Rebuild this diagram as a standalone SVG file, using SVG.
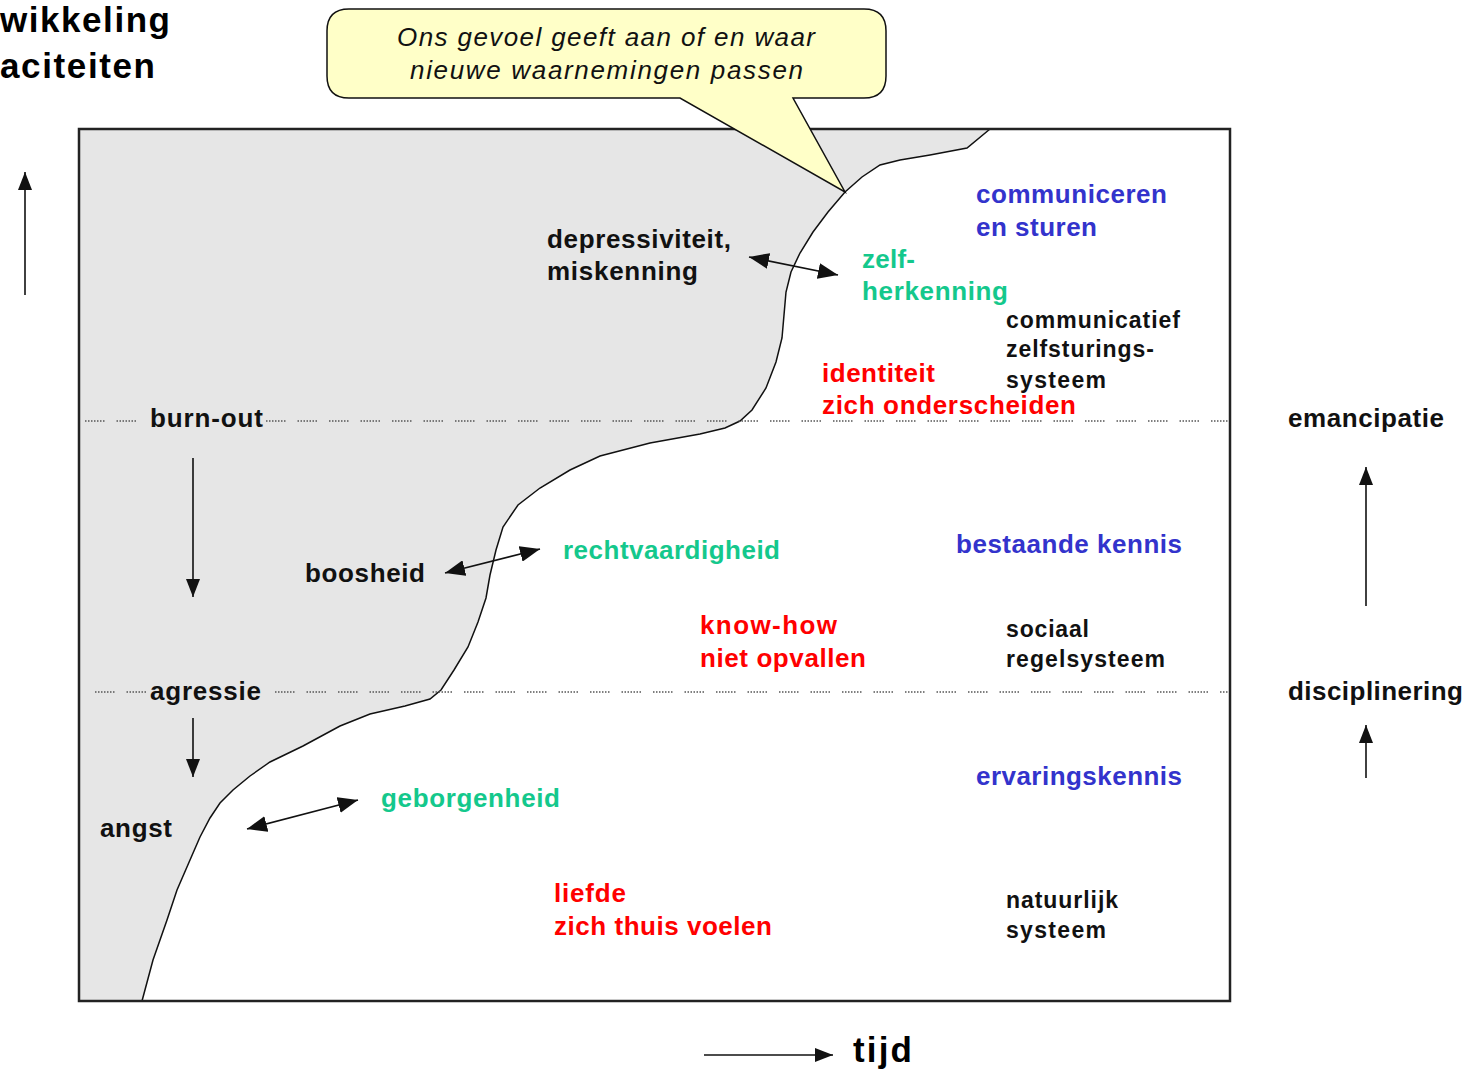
<svg xmlns="http://www.w3.org/2000/svg" width="1481" height="1070" viewBox="0 0 1481 1070">
<style>
text{font-family:"Liberation Sans",Arial,sans-serif;font-weight:bold;}
.lb{font-size:26px;fill:#111;}
.sm{font-size:23px;fill:#111;}
.blue{font-size:26px;fill:#3333cc;}
.green{font-size:26px;fill:#14c88c;}
.red{font-size:26px;fill:#ff0000;}
.call{font-size:26px;font-style:italic;font-weight:normal;fill:#111;}
.big{font-size:35px;fill:#000;}
.dots{stroke:#555;stroke-width:1.5;stroke-dasharray:1.5 1.5 1.5 1.5 1.5 1.5 1.5 1.5 1.5 1.5 1.5 1.5 1.5 12;fill:none;}
.ar{stroke:#111;stroke-width:1.6;fill:none;}
</style>
<defs>
<marker id="ah" viewBox="0 0 20 16" refX="20" refY="8" markerWidth="20" markerHeight="16" orient="auto-start-reverse" markerUnits="userSpaceOnUse"><path d="M0,0 L20,8 L0,16 Z" fill="#111"/></marker>
<marker id="av" viewBox="0 0 18 14" refX="18" refY="7" markerWidth="18" markerHeight="14" orient="auto" markerUnits="userSpaceOnUse"><path d="M0,0 L18,7 L0,14 Z" fill="#111"/></marker>
</defs>
<rect width="1481" height="1070" fill="#fff"/>
<g id="gray-region">
<path d="M79,129 L990,129 L967,148 L930,155 L900,160 L880,165 L862,177 L845,192 L828,212 L813,232 L800,253 L791,272 L786,292 L784,315 L782,338 L776,362 L766,388 L752,410 L740,421 L725,428 L700,434 L650,443 L600,456 L570,470 L540,488 L518,505 L503,527 L496,550 L490,575 L486,598 L478,622 L468,647 L454,670 L441,690 L430,699 L405,706 L370,714 L340,726 L303,746 L270,762 L250,776 L233,790 L220,803 L210,818 L200,837 L190,860 L177,890 L167,920 L153,960 L142,1001 L79,1001 Z" fill="#e6e6e6"/>
<path d="M990,129 L967,148 L930,155 L900,160 L880,165 L862,177 L845,192 L828,212 L813,232 L800,253 L791,272 L786,292 L784,315 L782,338 L776,362 L766,388 L752,410 L740,421 L725,428 L700,434 L650,443 L600,456 L570,470 L540,488 L518,505 L503,527 L496,550 L490,575 L486,598 L478,622 L468,647 L454,670 L441,690 L430,699 L405,706 L370,714 L340,726 L303,746 L270,762 L250,776 L233,790 L220,803 L210,818 L200,837 L190,860 L177,890 L167,920 L153,960 L142,1001" fill="none" stroke="#111" stroke-width="1.5"/>
</g>
<g id="levels">
<line class="dots" x1="85" y1="421" x2="147" y2="421"/>
<line class="dots" x1="266" y1="421" x2="1230" y2="421"/>
<line class="dots" x1="95" y1="692" x2="148" y2="692"/>
<line class="dots" x1="275" y1="692" x2="1230" y2="692"/>
</g>
<g id="frame">
<rect x="79" y="129" width="1151" height="872" fill="none" stroke="#222" stroke-width="2.5"/>
</g>
<g id="callout">
<path d="M349,9 L864,9 Q886,9 886,31 L886,76 Q886,98 864,98 L793,98 L845,192 L680,98 L349,98 Q327,98 327,76 L327,31 Q327,9 349,9 Z" fill="#ffffc8" stroke="#111" stroke-width="1.5"/>
<text class="call" x="397" y="46" textLength="418">Ons gevoel geeft aan of en waar</text>
<text class="call" x="410" y="79" textLength="393">nieuwe waarnemingen passen</text>
</g>
<g id="connectors">
<line class="ar" x1="25" y1="295" x2="25" y2="172" marker-end="url(#av)"/>
<line class="ar" x1="193" y1="458" x2="193" y2="597" marker-end="url(#av)"/>
<line class="ar" x1="193" y1="718" x2="193" y2="777" marker-end="url(#av)"/>
<line class="ar" x1="1366" y1="606" x2="1366" y2="467" marker-end="url(#av)"/>
<line class="ar" x1="1366" y1="778" x2="1366" y2="725" marker-end="url(#av)"/>
<line class="ar" x1="704" y1="1055" x2="833" y2="1055" marker-end="url(#av)"/>
<line class="ar" x1="749" y1="257" x2="838" y2="275" marker-start="url(#ah)" marker-end="url(#ah)"/>
<line class="ar" x1="445" y1="573" x2="540" y2="549" marker-start="url(#ah)" marker-end="url(#ah)"/>
<line class="ar" x1="247" y1="829" x2="358" y2="800" marker-start="url(#ah)" marker-end="url(#ah)"/>
</g>
<g id="title"><text class="big" x="0" y="32" textLength="170">wikkeling</text><text class="big" x="0" y="78" textLength="155">aciteiten</text></g>
<g id="tijd"><text class="big" x="853" y="1062" textLength="59">tijd</text></g>
<g id="depressiviteit"><text class="lb" x="547" y="248" textLength="184">depressiviteit,</text><text class="lb" x="547" y="280" textLength="151">miskenning</text></g>
<g id="zelfherkenning"><text class="green" x="862" y="268" textLength="53">zelf-</text><text class="green" x="862" y="300" textLength="146">herkenning</text></g>
<g id="communiceren"><text class="blue" x="976" y="203" textLength="191">communiceren</text><text class="blue" x="976" y="236" textLength="121">en sturen</text></g>
<g id="communicatief"><text class="sm" x="1006" y="328" textLength="174">communicatief</text><text class="sm" x="1006" y="357" textLength="148">zelfsturings-</text><text class="sm" x="1006" y="388" textLength="100">systeem</text></g>
<g id="identiteit"><text class="red" x="822" y="382" textLength="113">identiteit</text><text class="red" x="822" y="414" textLength="254">zich onderscheiden</text></g>
<g id="burn-out"><text class="lb" x="150" y="427" textLength="113">burn-out</text></g>
<g id="emancipatie"><text class="lb" x="1288" y="427" textLength="156">emancipatie</text></g>
<g id="boosheid"><text class="lb" x="305" y="582" textLength="120">boosheid</text></g>
<g id="rechtvaardigheid"><text class="green" x="563" y="559" textLength="217">rechtvaardigheid</text></g>
<g id="bestaande-kennis"><text class="blue" x="956" y="553" textLength="226">bestaande kennis</text></g>
<g id="know-how"><text class="red" x="700" y="634" textLength="137">know-how</text><text class="red" x="700" y="667" textLength="166">niet opvallen</text></g>
<g id="sociaal"><text class="sm" x="1006" y="637" textLength="83">sociaal</text><text class="sm" x="1006" y="667" textLength="159">regelsysteem</text></g>
<g id="agressie"><text class="lb" x="150" y="700" textLength="111">agressie</text></g>
<g id="disciplinering"><text class="lb" x="1288" y="700" textLength="175">disciplinering</text></g>
<g id="ervaringskennis"><text class="blue" x="976" y="785" textLength="206">ervaringskennis</text></g>
<g id="geborgenheid"><text class="green" x="381" y="807" textLength="179">geborgenheid</text></g>
<g id="angst"><text class="lb" x="100" y="837" textLength="72">angst</text></g>
<g id="liefde"><text class="red" x="554" y="902" textLength="72">liefde</text><text class="red" x="554" y="935" textLength="218">zich thuis voelen</text></g>
<g id="natuurlijk"><text class="sm" x="1006" y="908" textLength="112">natuurlijk</text><text class="sm" x="1006" y="938" textLength="100">systeem</text></g>
</svg>
